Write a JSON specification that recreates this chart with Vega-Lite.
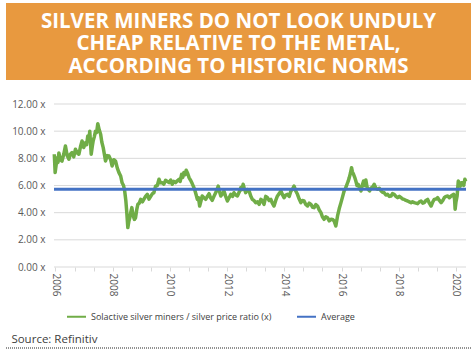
{
  "$schema": "https://vega.github.io/schema/vega-lite/v6.json",
  "background": "white",
  "padding": {"left": 5, "top": 3, "right": 5, "bottom": 0},
  "columns": 1,
  "spacing": 11,
  "resolve": {"scale": {"color": "independent"}, "legend": {"color": "independent"}},
  "config": {
    "font": "Open Sans",
    "view": {"stroke": null},
    "axis": {"labelFont": "Open Sans", "labelColor": "#595959", "labelFontSize": 10, "labelOverlap": false},
    "legend": {"labelFont": "Open Sans"}
  },
  "concat": [
    {
      "width": 465,
      "height": 77,
      "view": {"fill": "#E8993F", "stroke": null},
      "data": {"values": [{"title": "SILVER MINERS DO NOT LOOK UNDULY\nCHEAP RELATIVE TO THE METAL,\nACCORDING TO HISTORIC NORMS", "k": "a"}]},
      "mark": {"type": "text", "lineBreak": "\n", "color": "white", "fontSize": 20.5, "fontWeight": "bold", "font": "Open Sans", "lineHeight": 22.5, "baseline": "middle", "align": "center", "dy": -20},
      "encoding": {
        "text": {"field": "title"},
        "x": {"datum": 0.5, "type": "quantitative", "scale": {"domain": [0, 1]}, "axis": {"labels": false, "ticks": false, "domain": false, "grid": false, "title": null, "minExtent": 8, "maxExtent": 8}},
        "y": {"field": "k", "type": "nominal", "axis": null}
      }
    },
    {
      "width": 460,
      "height": 163,
      "encoding": {
        "x": {"field": "t", "type": "quantitative",
          "scale": {"domain": [2004.272, 2020.35], "nice": false, "zero": false},
          "axis": {"title": null, "grid": false, "domain": false, "values": [2006, 2006.6667, 2007.3333, 2008, 2008.6667, 2009.3333, 2010, 2010.6667, 2011.3333, 2012, 2012.6667, 2013.3333, 2014, 2014.6667, 2015.3333, 2016, 2016.6667, 2017.3333, 2018, 2018.6667, 2019.3333, 2020],
            "labelExpr": "abs(datum.value - 2*round(datum.value/2)) < 0.01 ? toString(round(datum.value)) : ''",
            "labelAngle": 90, "labelAlign": "left", "labelBaseline": "middle", "labelOverlap": false, "labelPadding": 2,
            "tickColor": "#D9D9D9", "tickSize": 4}},
        "y": {"field": "v", "type": "quantitative",
          "scale": {"domain": [0, 12], "nice": false},
          "axis": {"title": null, "grid": false, "values": [0, 2, 4, 6, 8, 10, 12], "labelExpr": "format(datum.value, '.2f') + ' x'", "labelOverlap": false,
            "domain": false, "ticks": false, "labelPadding": 9, "offset": -48}}
      },
      "layer": [
        {
          "data": {"values": [{"v": 0, "t": 2005.95, "t2": 2020.35}, {"v": 2, "t": 2005.95, "t2": 2020.35}, {"v": 4, "t": 2005.95, "t2": 2020.35}, {"v": 6, "t": 2005.95, "t2": 2020.35}, {"v": 8, "t": 2005.95, "t2": 2020.35}, {"v": 10, "t": 2005.95, "t2": 2020.35}, {"v": 12, "t": 2005.95, "t2": 2020.35}]},
          "mark": {"type": "rule", "color": "#D9D9D9", "strokeWidth": 1},
          "encoding": {"x2": {"field": "t2"}}
        },
        {
          "data": {"values": [
            {"t":2005.96,"v":8.30,"s":"r"},{"t":2005.99,"v":6.95,"s":"r"},{"t":2006.03,"v":7.6,"s":"r"},{"t":2006.06,"v":8.05,"s":"r"},{"t":2006.09,"v":7.7,"s":"r"},{"t":2006.12,"v":8.40,"s":"r"},{"t":2006.17,"v":7.9,"s":"r"},{"t":2006.23,"v":7.80,"s":"r"},{"t":2006.29,"v":8.3,"s":"r"},{"t":2006.35,"v":8.91,"s":"r"},{"t":2006.41,"v":8.2,"s":"r"},{"t":2006.47,"v":7.93,"s":"r"},{"t":2006.52,"v":8.3,"s":"r"},{"t":2006.58,"v":8.42,"s":"r"},{"t":2006.64,"v":8.1,"s":"r"},{"t":2006.70,"v":8.67,"s":"r"},{"t":2006.76,"v":8.4,"s":"r"},{"t":2006.82,"v":8.30,"s":"r"},{"t":2006.88,"v":8.9,"s":"r"},{"t":2006.93,"v":9.28,"s":"r"},{"t":2006.99,"v":8.8,"s":"r"},{"t":2007.05,"v":9.15,"s":"r"},{"t":2007.09,"v":9.0,"s":"r"},{"t":2007.13,"v":9.65,"s":"r"},{"t":2007.17,"v":9.4,"s":"r"},{"t":2007.20,"v":10.0,"s":"r"},{"t":2007.25,"v":8.30,"s":"r"},{"t":2007.29,"v":8.9,"s":"r"},{"t":2007.32,"v":9.30,"s":"r"},{"t":2007.36,"v":9.6,"s":"r"},{"t":2007.40,"v":10.0,"s":"r"},{"t":2007.44,"v":9.9,"s":"r"},{"t":2007.48,"v":10.55,"s":"r"},{"t":2007.53,"v":10.1,"s":"r"},{"t":2007.58,"v":9.77,"s":"r"},{"t":2007.62,"v":9.2,"s":"r"},{"t":2007.67,"v":8.79,"s":"r"},{"t":2007.71,"v":8.3,"s":"r"},{"t":2007.75,"v":7.80,"s":"r"},{"t":2007.81,"v":8.2,"s":"r"},{"t":2007.87,"v":8.17,"s":"r"},{"t":2007.93,"v":7.9,"s":"r"},{"t":2007.98,"v":7.44,"s":"r"},{"t":2008.04,"v":7.9,"s":"r"},{"t":2008.10,"v":7.80,"s":"r"},{"t":2008.16,"v":7.3,"s":"r"},{"t":2008.22,"v":6.95,"s":"r"},{"t":2008.28,"v":6.70,"s":"r"},{"t":2008.33,"v":6.20,"s":"r"},{"t":2008.38,"v":6.0,"s":"r"},{"t":2008.42,"v":5.60,"s":"r"},{"t":2008.46,"v":4.9,"s":"r"},{"t":2008.49,"v":4.12,"s":"r"},{"t":2008.53,"v":2.90,"s":"r"},{"t":2008.57,"v":3.4,"s":"r"},{"t":2008.60,"v":3.63,"s":"r"},{"t":2008.64,"v":4.1,"s":"r"},{"t":2008.67,"v":4.37,"s":"r"},{"t":2008.72,"v":3.76,"s":"r"},{"t":2008.76,"v":3.5,"s":"r"},{"t":2008.80,"v":3.63,"s":"r"},{"t":2008.84,"v":4.2,"s":"r"},{"t":2008.88,"v":4.61,"s":"r"},{"t":2008.93,"v":4.7,"s":"r"},{"t":2008.98,"v":4.98,"s":"r"},{"t":2009.04,"v":4.8,"s":"r"},{"t":2009.09,"v":4.98,"s":"r"},{"t":2009.15,"v":5.2,"s":"r"},{"t":2009.21,"v":5.35,"s":"r"},{"t":2009.27,"v":5.0,"s":"r"},{"t":2009.33,"v":5.20,"s":"r"},{"t":2009.39,"v":5.4,"s":"r"},{"t":2009.44,"v":5.47,"s":"r"},{"t":2009.50,"v":5.95,"s":"r"},{"t":2009.56,"v":6.0,"s":"r"},{"t":2009.62,"v":6.46,"s":"r"},{"t":2009.67,"v":6.2,"s":"r"},{"t":2009.73,"v":6.21,"s":"r"},{"t":2009.79,"v":6.1,"s":"r"},{"t":2009.85,"v":6.38,"s":"r"},{"t":2009.91,"v":6.3,"s":"r"},{"t":2009.97,"v":6.21,"s":"r"},{"t":2010.03,"v":6.4,"s":"r"},{"t":2010.08,"v":6.09,"s":"r"},{"t":2010.14,"v":6.3,"s":"r"},{"t":2010.20,"v":6.21,"s":"r"},{"t":2010.26,"v":6.35,"s":"r"},{"t":2010.32,"v":6.46,"s":"r"},{"t":2010.36,"v":6.3,"s":"r"},{"t":2010.41,"v":6.82,"s":"r"},{"t":2010.45,"v":6.6,"s":"r"},{"t":2010.49,"v":6.95,"s":"r"},{"t":2010.53,"v":6.8,"s":"r"},{"t":2010.57,"v":7.12,"s":"r"},{"t":2010.62,"v":6.9,"s":"r"},{"t":2010.67,"v":6.58,"s":"r"},{"t":2010.72,"v":6.4,"s":"r"},{"t":2010.78,"v":6.14,"s":"r"},{"t":2010.83,"v":5.9,"s":"r"},{"t":2010.88,"v":5.60,"s":"r"},{"t":2010.92,"v":5.3,"s":"r"},{"t":2010.96,"v":4.98,"s":"r"},{"t":2011.00,"v":5.1,"s":"r"},{"t":2011.04,"v":4.49,"s":"r"},{"t":2011.09,"v":4.9,"s":"r"},{"t":2011.13,"v":5.23,"s":"r"},{"t":2011.19,"v":5.1,"s":"r"},{"t":2011.25,"v":4.98,"s":"r"},{"t":2011.31,"v":5.2,"s":"r"},{"t":2011.37,"v":5.40,"s":"r"},{"t":2011.42,"v":5.1,"s":"r"},{"t":2011.48,"v":4.91,"s":"r"},{"t":2011.54,"v":5.2,"s":"r"},{"t":2011.60,"v":5.47,"s":"r"},{"t":2011.65,"v":5.7,"s":"r"},{"t":2011.69,"v":5.96,"s":"r"},{"t":2011.74,"v":5.5,"s":"r"},{"t":2011.78,"v":5.23,"s":"r"},{"t":2011.84,"v":5.4,"s":"r"},{"t":2011.89,"v":5.60,"s":"r"},{"t":2011.95,"v":5.2,"s":"r"},{"t":2012.01,"v":4.86,"s":"r"},{"t":2012.07,"v":5.1,"s":"r"},{"t":2012.13,"v":5.35,"s":"r"},{"t":2012.19,"v":5.2,"s":"r"},{"t":2012.24,"v":5.47,"s":"r"},{"t":2012.30,"v":5.3,"s":"r"},{"t":2012.36,"v":5.23,"s":"r"},{"t":2012.42,"v":5.5,"s":"r"},{"t":2012.48,"v":5.84,"s":"r"},{"t":2012.52,"v":5.7,"s":"r"},{"t":2012.56,"v":6.09,"s":"r"},{"t":2012.60,"v":5.8,"s":"r"},{"t":2012.65,"v":5.47,"s":"r"},{"t":2012.71,"v":5.7,"s":"r"},{"t":2012.77,"v":5.60,"s":"r"},{"t":2012.83,"v":5.2,"s":"r"},{"t":2012.88,"v":4.98,"s":"r"},{"t":2012.94,"v":4.9,"s":"r"},{"t":2013.00,"v":4.73,"s":"r"},{"t":2013.06,"v":4.8,"s":"r"},{"t":2013.12,"v":4.61,"s":"r"},{"t":2013.18,"v":4.98,"s":"r"},{"t":2013.23,"v":4.9,"s":"r"},{"t":2013.29,"v":4.61,"s":"r"},{"t":2013.35,"v":5.2,"s":"r"},{"t":2013.41,"v":5.10,"s":"r"},{"t":2013.47,"v":4.9,"s":"r"},{"t":2013.53,"v":4.98,"s":"r"},{"t":2013.58,"v":4.7,"s":"r"},{"t":2013.64,"v":4.49,"s":"r"},{"t":2013.70,"v":4.9,"s":"r"},{"t":2013.76,"v":5.23,"s":"r"},{"t":2013.82,"v":5.4,"s":"r"},{"t":2013.88,"v":5.60,"s":"r"},{"t":2013.94,"v":5.3,"s":"r"},{"t":2013.99,"v":5.10,"s":"r"},{"t":2014.05,"v":5.3,"s":"r"},{"t":2014.11,"v":5.35,"s":"r"},{"t":2014.17,"v":5.2,"s":"r"},{"t":2014.23,"v":5.60,"s":"r"},{"t":2014.28,"v":5.7,"s":"r"},{"t":2014.34,"v":5.96,"s":"r"},{"t":2014.40,"v":5.6,"s":"r"},{"t":2014.46,"v":5.35,"s":"r"},{"t":2014.52,"v":5.0,"s":"r"},{"t":2014.58,"v":4.74,"s":"r"},{"t":2014.63,"v":4.9,"s":"r"},{"t":2014.69,"v":4.86,"s":"r"},{"t":2014.75,"v":4.6,"s":"r"},{"t":2014.81,"v":4.49,"s":"r"},{"t":2014.87,"v":4.7,"s":"r"},{"t":2014.93,"v":4.61,"s":"r"},{"t":2014.99,"v":4.4,"s":"r"},{"t":2015.04,"v":4.37,"s":"r"},{"t":2015.10,"v":4.6,"s":"r"},{"t":2015.16,"v":4.49,"s":"r"},{"t":2015.22,"v":4.2,"s":"r"},{"t":2015.28,"v":4.00,"s":"r"},{"t":2015.33,"v":3.7,"s":"r"},{"t":2015.39,"v":3.51,"s":"r"},{"t":2015.45,"v":3.7,"s":"r"},{"t":2015.51,"v":3.63,"s":"r"},{"t":2015.57,"v":3.4,"s":"r"},{"t":2015.63,"v":3.51,"s":"r"},{"t":2015.69,"v":3.5,"s":"r"},{"t":2015.74,"v":3.39,"s":"r"},{"t":2015.80,"v":3.02,"s":"r"},{"t":2015.86,"v":3.76,"s":"r"},{"t":2015.92,"v":4.3,"s":"r"},{"t":2015.98,"v":4.74,"s":"r"},{"t":2016.04,"v":5.2,"s":"r"},{"t":2016.09,"v":5.60,"s":"r"},{"t":2016.14,"v":5.8,"s":"r"},{"t":2016.19,"v":6.09,"s":"r"},{"t":2016.23,"v":6.3,"s":"r"},{"t":2016.27,"v":6.58,"s":"r"},{"t":2016.31,"v":6.9,"s":"r"},{"t":2016.35,"v":7.31,"s":"r"},{"t":2016.38,"v":7.0,"s":"r"},{"t":2016.42,"v":6.82,"s":"r"},{"t":2016.46,"v":6.6,"s":"r"},{"t":2016.50,"v":6.33,"s":"r"},{"t":2016.54,"v":6.0,"s":"r"},{"t":2016.58,"v":6.09,"s":"r"},{"t":2016.63,"v":5.8,"s":"r"},{"t":2016.68,"v":5.60,"s":"r"},{"t":2016.72,"v":6.0,"s":"r"},{"t":2016.77,"v":6.33,"s":"r"},{"t":2016.81,"v":6.0,"s":"r"},{"t":2016.85,"v":6.40,"s":"r"},{"t":2016.89,"v":5.9,"s":"r"},{"t":2016.93,"v":5.72,"s":"r"},{"t":2016.98,"v":5.6,"s":"r"},{"t":2017.03,"v":5.80,"s":"r"},{"t":2017.09,"v":5.9,"s":"r"},{"t":2017.14,"v":6.09,"s":"r"},{"t":2017.20,"v":5.8,"s":"r"},{"t":2017.26,"v":5.72,"s":"r"},{"t":2017.32,"v":5.8,"s":"r"},{"t":2017.38,"v":5.60,"s":"r"},{"t":2017.44,"v":5.5,"s":"r"},{"t":2017.49,"v":5.47,"s":"r"},{"t":2017.55,"v":5.3,"s":"r"},{"t":2017.61,"v":5.35,"s":"r"},{"t":2017.67,"v":5.2,"s":"r"},{"t":2017.73,"v":5.23,"s":"r"},{"t":2017.78,"v":5.4,"s":"r"},{"t":2017.84,"v":5.35,"s":"r"},{"t":2017.90,"v":5.2,"s":"r"},{"t":2017.96,"v":5.10,"s":"r"},{"t":2018.02,"v":5.2,"s":"r"},{"t":2018.08,"v":5.10,"s":"r"},{"t":2018.14,"v":5.0,"s":"r"},{"t":2018.19,"v":4.98,"s":"r"},{"t":2018.25,"v":4.9,"s":"r"},{"t":2018.31,"v":4.86,"s":"r"},{"t":2018.37,"v":4.8,"s":"r"},{"t":2018.43,"v":4.74,"s":"r"},{"t":2018.48,"v":4.8,"s":"r"},{"t":2018.54,"v":4.74,"s":"r"},{"t":2018.60,"v":4.7,"s":"r"},{"t":2018.66,"v":4.66,"s":"r"},{"t":2018.72,"v":4.8,"s":"r"},{"t":2018.78,"v":4.86,"s":"r"},{"t":2018.84,"v":4.7,"s":"r"},{"t":2018.89,"v":4.74,"s":"r"},{"t":2018.95,"v":4.9,"s":"r"},{"t":2019.01,"v":4.98,"s":"r"},{"t":2019.07,"v":4.7,"s":"r"},{"t":2019.13,"v":4.49,"s":"r"},{"t":2019.19,"v":4.8,"s":"r"},{"t":2019.24,"v":4.98,"s":"r"},{"t":2019.30,"v":5.0,"s":"r"},{"t":2019.36,"v":5.10,"s":"r"},{"t":2019.42,"v":4.9,"s":"r"},{"t":2019.48,"v":4.74,"s":"r"},{"t":2019.54,"v":4.9,"s":"r"},{"t":2019.59,"v":5.10,"s":"r"},{"t":2019.65,"v":5.2,"s":"r"},{"t":2019.71,"v":5.23,"s":"r"},{"t":2019.77,"v":5.1,"s":"r"},{"t":2019.83,"v":5.23,"s":"r"},{"t":2019.88,"v":5.3,"s":"r"},{"t":2019.92,"v":5.35,"s":"r"},{"t":2019.95,"v":5.0,"s":"r"},{"t":2019.97,"v":4.25,"s":"r"},{"t":2020.00,"v":4.8,"s":"r"},{"t":2020.04,"v":5.23,"s":"r"},{"t":2020.08,"v":6.33,"s":"r"},{"t":2020.12,"v":6.0,"s":"r"},{"t":2020.15,"v":5.96,"s":"r"},{"t":2020.19,"v":6.2,"s":"r"},{"t":2020.23,"v":6.21,"s":"r"},{"t":2020.27,"v":6.0,"s":"r"},{"t":2020.31,"v":6.46,"s":"r"},{"t":2020.34,"v":6.3,"s":"r"}
          ]},
          "mark": {"type": "line", "strokeWidth": 3.5, "strokeJoin": "round"},
          "encoding": {
            "color": {"field": "s", "type": "nominal",
              "scale": {"domain": ["r", "a"], "range": ["#70AD47", "#4472C4"]},
              "legend": {"title": null, "orient": "none", "legendX": 60, "legendY": 202, "direction": "horizontal", "symbolType": "stroke", "symbolSize": 361, "symbolStrokeWidth": 2,
                "labelExpr": "datum.label == 'r' ? 'Solactive silver miners / silver price ratio (x)' : 'Average'", "labelLimit": 400,
                "labelFontSize": 9, "labelColor": "#404040", "columnPadding": 21}}
          }
        },
        {
          "data": {"values": [{"v": 5.72, "t": 2005.95, "t2": 2020.35, "s": "a"}]},
          "mark": {"type": "rule", "strokeWidth": 3},
          "encoding": {
            "x2": {"field": "t2"},
            "color": {"field": "s", "type": "nominal"}
          }
        }
      ]
    },
    {
      "width": 465,
      "height": 1,
      "title": {"text": "Source: Refinitiv", "anchor": "start", "fontSize": 11.5, "fontWeight": "normal", "color": "#404040", "offset": 2, "dx": 6, "font": "Open Sans"},
      "data": {"values": [{"z": 0}]},
      "mark": {"type": "rule", "color": "#262626", "strokeDash": [1, 1], "strokeWidth": 1.2},
      "encoding": {"y": {"field": "z", "type": "quantitative", "scale": {"domain": [0, 1]}, "axis": null}}
    }
  ]
}
